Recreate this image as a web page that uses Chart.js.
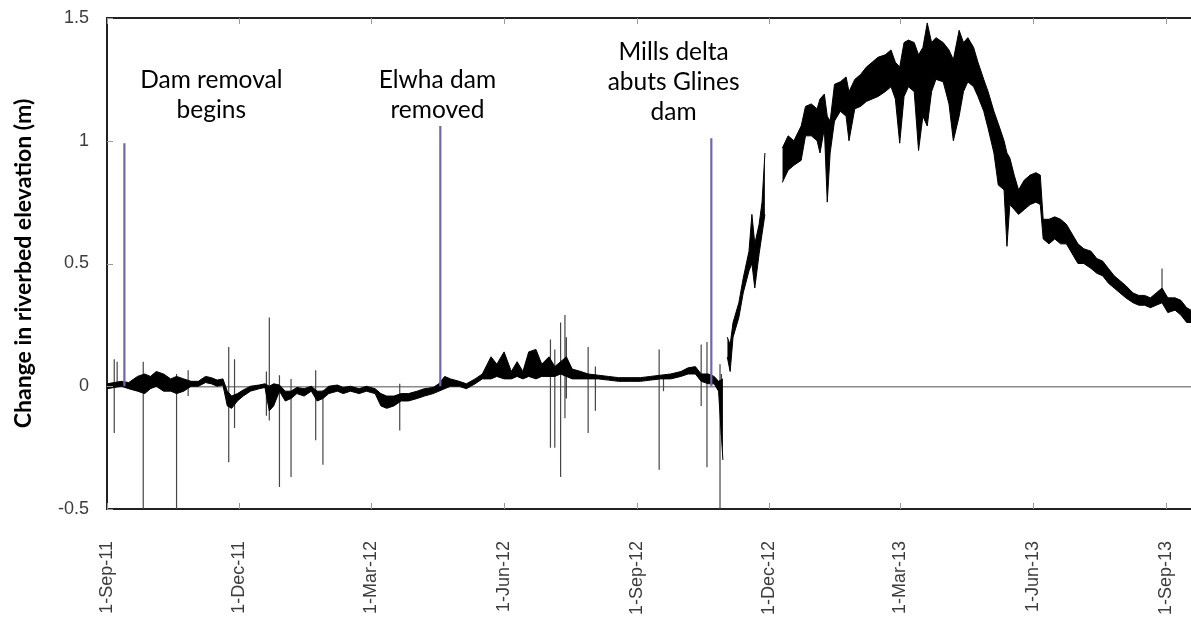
<!DOCTYPE html>
<html>
<head>
<meta charset="utf-8">
<script src="https://cdn.jsdelivr.net/npm/chart.js@4.4.1/dist/chart.umd.min.js"></script>
<style>
  html, body { margin: 0; padding: 0; background: #fff; }
  #wrap { width: 1191px; height: 617px; position: relative; }
</style>
</head>
<body>
<div id="wrap"><canvas id="riverbedChart"></canvas></div>
<script>
// days counted from 1-Sep-2011
const tickDays = [0, 91, 182, 274, 366, 457, 547, 639, 731];
const tickLabels = ['1-Sep-11', '1-Dec-11', '1-Mar-12', '1-Jun-12', '1-Sep-12', '1-Dec-12', '1-Mar-13', '1-Jun-13', '1-Sep-13'];
const yTicks = [-0.5, 0, 0.5, 1, 1.5];

// riverbed elevation change: low / high edge of the noisy trace (m), null = gap in record
const days = [0, 5, 10, 15, 21, 26, 30, 34, 39, 44, 48, 53, 58, 63, 68, 72, 76, 80, 83, 86, 90, 94, 99, 105, 109, 112, 115, 119, 123, 127, 131, 136, 141, 145, 149, 153, 159, 163, 168, 174, 179, 185, 189, 193, 198, 203, 208, 214, 219, 225, 229, 233, 237, 243, 248, 254, 259, 265, 269, 274, 279, 283, 287, 291, 296, 300, 305, 309, 313, 317, 321, 327, 332, 339, 346, 353, 361, 368, 375, 382, 389, 396, 401, 406, 410, 415, 419, 422, 425, 427,
  428, 430, 432, 436, 439, 443, 445, 447, 450, 452, 454, 460,
  466, 470, 474, 479, 482, 486, 490, 492, 495, 497, 499, 502, 506, 510, 512, 516, 520, 524, 528, 532, 537, 541, 544, 547, 550, 553, 557, 560, 563, 566, 569, 572, 577, 581, 584, 588, 591, 594, 598, 601, 605, 608, 612, 615, 619, 621, 623, 626, 629, 633, 637, 641, 644, 646, 650, 654, 658, 662, 666, 670, 674, 679, 683, 687, 691, 695, 699, 703, 708, 712, 716, 720, 724, 728, 732, 737, 741, 745, 748];
const lowEdge = [-0.01, -0.005, 0.0, -0.01, -0.02, -0.03, -0.01, 0.0, -0.02, -0.02, -0.03, -0.02, 0.0, 0.0, 0.015, 0.01, 0.0, 0.005, -0.08, -0.09, -0.06, -0.04, -0.02, -0.01, -0.005, -0.1, -0.08, -0.02, -0.06, -0.05, -0.03, -0.04, -0.02, -0.06, -0.05, -0.03, -0.02, -0.03, -0.02, -0.03, -0.02, -0.03, -0.08, -0.09, -0.08, -0.06, -0.06, -0.05, -0.04, -0.03, -0.02, -0.01, 0.0, 0.0, -0.01, 0.01, 0.03, 0.03, 0.04, 0.03, 0.03, 0.04, 0.03, 0.04, 0.03, 0.04, 0.04, 0.04, 0.05, 0.04, 0.03, 0.03, 0.03, 0.03, 0.025, 0.02, 0.02, 0.02, 0.025, 0.03, 0.03, 0.04, 0.05, 0.05, 0.02, 0.01, 0.01, -0.02, -0.3, null,
  0.12, 0.06, 0.2, 0.28, 0.38, 0.47, 0.5, 0.4, 0.54, 0.62, 0.7, null,
  0.83, 0.88, 0.9, 0.92, 1.02, 1.02, 1.0, 0.95, 1.05, 0.75, 0.95, 1.08, 1.12, 1.1, 1.0, 1.13, 1.14, 1.16, 1.17, 1.18, 1.2, 1.22, 1.17, 0.99, 1.18, 1.22, 1.2, 0.96, 1.1, 1.06, 1.2, 1.25, 1.24, 1.15, 1.0, 1.1, 1.2, 1.24, 1.22, 1.18, 1.12, 1.05, 0.95, 0.82, 0.8, 0.57, 0.74, 0.72, 0.7, 0.72, 0.74, 0.75, 0.74, 0.6, 0.58, 0.6, 0.58, 0.58, 0.54, 0.5, 0.5, 0.48, 0.46, 0.45, 0.42, 0.4, 0.38, 0.36, 0.34, 0.33, 0.33, 0.32, 0.33, 0.34, 0.3, 0.31, 0.29, 0.26, 0.26];
const highEdge = [0.01, 0.015, 0.02, 0.015, 0.04, 0.05, 0.04, 0.06, 0.05, 0.03, 0.04, 0.03, 0.02, 0.02, 0.04, 0.035, 0.025, 0.03, -0.02, -0.04, -0.03, -0.015, 0.0, 0.005, 0.01, 0.0, 0.01, 0.005, -0.02, -0.02, -0.005, -0.01, 0.0, -0.02, -0.02, 0.0, 0.005, -0.005, 0.0, -0.01, 0.0, -0.01, -0.03, -0.04, -0.04, -0.03, -0.03, -0.02, -0.01, -0.005, 0.01, 0.04, 0.03, 0.02, 0.01, 0.03, 0.05, 0.12, 0.09, 0.14, 0.06, 0.1, 0.06, 0.14, 0.15, 0.09, 0.12, 0.08, 0.1, 0.12, 0.07, 0.06, 0.05, 0.045, 0.04, 0.035, 0.035, 0.035, 0.04, 0.045, 0.05, 0.06, 0.075, 0.08, 0.05, 0.05, 0.04, 0.02, 0.03, null,
  0.2, 0.17, 0.26, 0.34, 0.44, 0.55, 0.7, 0.58, 0.66, 0.75, 0.95, null,
  0.97, 1.02, 1.0, 1.06, 1.14, 1.15, 1.13, 1.17, 1.19, 1.1, 1.08, 1.23, 1.24, 1.26, 1.2, 1.25, 1.27, 1.3, 1.32, 1.34, 1.35, 1.37, 1.32, 1.3, 1.4, 1.41, 1.4, 1.35, 1.38, 1.48, 1.4, 1.42, 1.4, 1.37, 1.33, 1.45, 1.4, 1.42, 1.38, 1.32, 1.25, 1.2, 1.12, 1.07, 1.0, 0.95, 0.93, 0.86, 0.8, 0.84, 0.86, 0.87, 0.86, 0.68, 0.68, 0.69, 0.68, 0.66, 0.62, 0.58, 0.56, 0.55, 0.52, 0.51, 0.48, 0.45, 0.43, 0.41, 0.38, 0.37, 0.37, 0.36, 0.38, 0.4, 0.36, 0.36, 0.35, 0.32, 0.31];

// short sensor spikes: day, top, bottom (m)
const spikeDays = [5, 7, 25, 48, 56, 84, 88, 110, 112, 119, 127, 144, 149, 202, 306, 309, 313, 316, 317, 332, 337, 381, 384, 410, 414, 423, 424, 728];
const spikeTop = [0.11, 0.1, 0.1, 0.05, 0.065, 0.16, 0.11, 0.06, 0.28, 0.045, 0.03, 0.065, -0.016, 0.01, 0.19, 0.15, 0.26, 0.29, 0.2, 0.16, 0.08, 0.15, 0.04, 0.17, 0.18, 0.09, 0.05, 0.48];
const spikeBottom = [-0.19, 0.0, -0.5, -0.5, -0.04, -0.31, -0.17, -0.12, -0.14, -0.41, -0.37, -0.22, -0.32, -0.18, -0.25, -0.25, -0.37, -0.13, -0.05, -0.19, -0.1, -0.34, -0.02, -0.08, -0.33, -0.5, -0.2, 0.35];

// event markers (purple lines)
const eventDays = [12, 230, 417];
const eventTop = [0.99, 1.06, 1.01];
const eventLabels = [['Dam removal', 'begins'], ['Elwha dam', 'removed'], ['Mills delta', 'abuts Glines', 'dam']];
const labelDays = [72, 228, 391];
const labelValues = [1.246, 1.246, 1.36];

function segments(xs, tops, bottoms) {
  const pts = [];
  xs.forEach((d, i) => {
    pts.push({ x: d, y: tops[i] }, { x: d, y: bottoms[i] }, { x: d, y: null });
  });
  return pts;
}

const lowPts = days.map((d, i) => ({ x: d, y: lowEdge[i] }));
const highPts = days.map((d, i) => ({ x: d, y: highEdge[i] }));

const overlay = {
  id: 'overlay',
  afterDatasetsDraw(chart) {
    const { ctx, chartArea: a, scales: { x, y } } = chart;
    ctx.save();
    // top frame line
    ctx.strokeStyle = '#222';
    ctx.lineWidth = 2;
    ctx.beginPath();
    ctx.moveTo(a.left, a.top);
    ctx.lineTo(a.right, a.top);
    ctx.stroke();
    // small inner tick marks
    ctx.strokeStyle = '#999';
    ctx.lineWidth = 1;
    tickDays.forEach(v => {
      const px = Math.round(x.getPixelForValue(v)) + 0.5;
      ctx.beginPath();
      ctx.moveTo(px, a.top); ctx.lineTo(px, a.top + 6);
      ctx.moveTo(px, a.bottom); ctx.lineTo(px, a.bottom - 6);
      ctx.stroke();
    });
    yTicks.forEach(v => {
      const py = Math.round(y.getPixelForValue(v)) + 0.5;
      ctx.beginPath();
      ctx.moveTo(a.left, py); ctx.lineTo(a.left + 6, py);
      ctx.stroke();
    });
    // event annotations
    ctx.fillStyle = '#000';
    ctx.font = '24.5px Lato, "Open Sans", sans-serif';
    ctx.textAlign = 'center';
    ctx.textBaseline = 'middle';
    eventLabels.forEach((lines, i) => {
      const cx = x.getPixelForValue(labelDays[i]);
      const cy = y.getPixelForValue(labelValues[i]);
      lines.forEach((t, j) => ctx.fillText(t, cx, cy + j * 30));
    });
    ctx.restore();
  }
};

new Chart(document.getElementById('riverbedChart'), {
  type: 'line',
  data: {
    datasets: [
      {
        label: 'events',
        data: segments(eventDays, eventTop, eventDays.map(() => 0)),
        borderColor: '#7466ae',
        borderWidth: 2.2,
        pointRadius: 0,
        spanGaps: false,
        order: 0
      },
      {
        label: 'low',
        data: lowPts,
        borderColor: '#000',
        borderWidth: 1,
        pointRadius: 0,
        tension: 0,
        spanGaps: false,
        order: 1
      },
      {
        label: 'high',
        data: highPts,
        borderColor: '#000',
        borderWidth: 1,
        backgroundColor: '#000',
        fill: '-1',
        pointRadius: 0,
        tension: 0,
        spanGaps: false,
        order: 2
      },
      {
        label: 'spikes',
        data: segments(spikeDays, spikeTop, spikeBottom),
        borderColor: '#4a4444',
        borderWidth: 1.2,
        pointRadius: 0,
        spanGaps: false,
        order: 3
      }
    ]
  },
  options: {
    responsive: true,
    maintainAspectRatio: false,
    animation: false,
    layout: { padding: { top: 18, right: 0, left: 0, bottom: 0 } },
    plugins: { legend: { display: false }, tooltip: { enabled: false } },
    scales: {
      x: {
        type: 'linear',
        min: 0,
        max: 748,
        afterBuildTicks: s => { s.ticks = tickDays.map(v => ({ value: v })); },
        afterFit: s => { s.height = 108; },
        grid: { display: true, drawOnChartArea: false, drawTicks: true, tickLength: 32, color: 'rgba(0,0,0,0)' },
        border: { display: true, color: '#222', width: 2 },
        ticks: {
          autoSkip: false,
          maxRotation: 90,
          minRotation: 90,
          padding: 0,
          color: '#3c3c3c',
          font: { family: '"Liberation Sans", Arial, sans-serif', size: 18 },
          callback: (v) => tickLabels[tickDays.indexOf(v)]
        }
      },
      y: {
        min: -0.5,
        max: 1.5,
        afterBuildTicks: s => { s.ticks = yTicks.map(v => ({ value: v })); },
        afterFit: s => { s.width = 107; },
        grid: {
          drawTicks: true,
          tickLength: 18,
          tickColor: 'rgba(0,0,0,0)',
          color: c => (c.tick && c.tick.value === 0 ? '#8a8a8a' : 'rgba(0,0,0,0)'),
          lineWidth: 1.5
        },
        border: { display: true, color: '#222', width: 2 },
        ticks: {
          padding: 0,
          color: '#3c3c3c',
          font: { family: '"Liberation Sans", Arial, sans-serif', size: 18 },
          callback: v => String(v)
        },
        title: {
          display: true,
          text: 'Change in riverbed elevation (m)',
          color: '#000',
          font: { family: 'Lato, "Open Sans", sans-serif', size: 23, weight: 'bold' },
          padding: { top: 10, bottom: 0 }
        }
      }
    }
  },
  plugins: [overlay]
});
</script>
</body>
</html>
